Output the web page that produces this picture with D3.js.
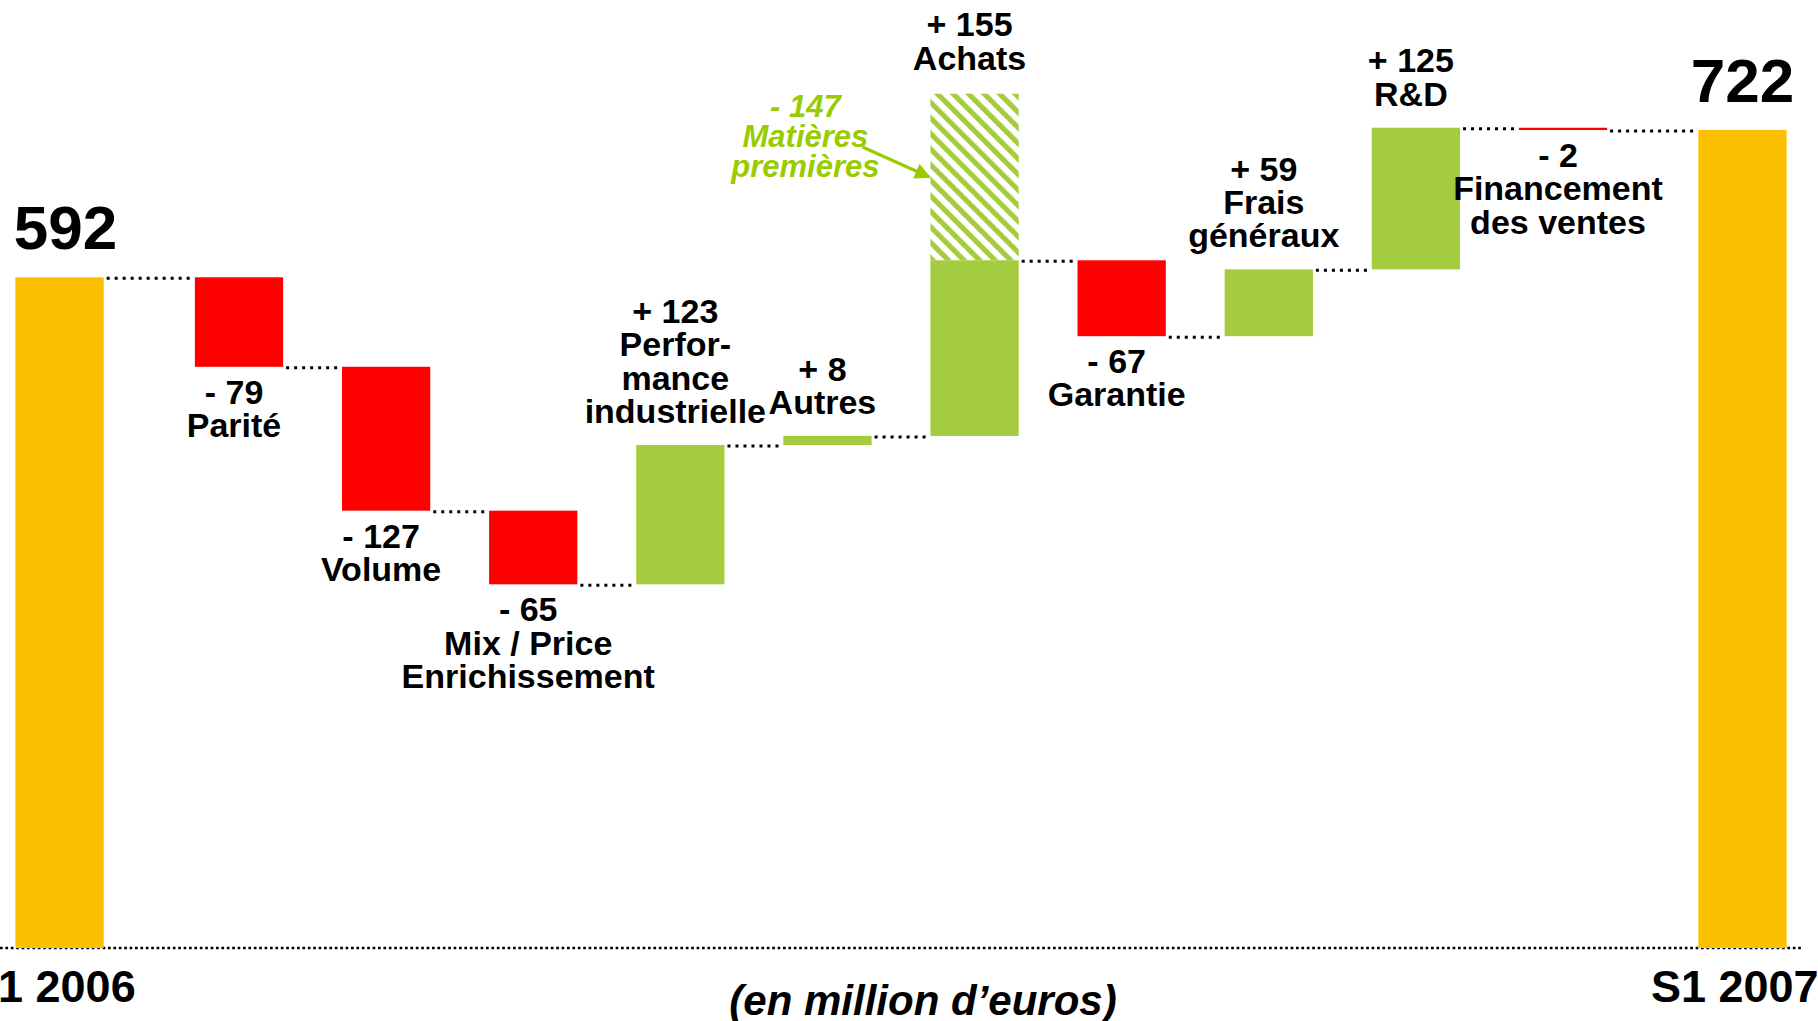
<!DOCTYPE html>
<html>
<head>
<meta charset="utf-8">
<script src="https://cdn.jsdelivr.net/npm/d3@7"></script>
<style>
  html, body { margin: 0; padding: 0; background: #ffffff; overflow: hidden; }
  svg { display: block; }
  text { font-family: "Liberation Sans", Arial, sans-serif; font-weight: bold; }
</style>
</head>
<body>
<svg id="chart" width="1818" height="1021"></svg>
<script>
// ---------- data ----------
const categories = ["S1 2006", "Parité", "Volume", "Mix / Price Enrichissement",
  "Performance industrielle", "Autres", "Achats", "Garantie", "Frais généraux",
  "R&D", "Financement des ventes", "S1 2007"];
const kinds = ["total", "delta", "delta", "delta", "delta", "delta", "delta",
  "delta", "delta", "delta", "delta", "total"];
const values = [592, -79, -127, -65, 123, 8, 155, -67, 59, 125, -2, 722];
const nameLines = [
  ["S1 2006"], ["Parité"], ["Volume"], ["Mix / Price", "Enrichissement"],
  ["Perfor-", "mance", "industrielle"], ["Autres"], ["Achats"], ["Garantie"],
  ["Frais", "généraux"], ["R&D"], ["Financement", "des ventes"], ["S1 2007"]
];
const hatchCategory = "Achats";
const hatchValue = 147;
const hatchLines = ["- 147", "Matières", "premières"];
const unitNote = "(en million d\u2019euros)";

// ---------- styles ----------
const COL_TOTAL = "#FBC000", COL_UP = "#A4CC3E", COL_DOWN = "#FF0000", COL_NOTE = "#99CC00";

// ---------- computed waterfall ----------
let run = 0;
const bars = categories.map((c, i) => {
  let start, end;
  if (kinds[i] === "total") { start = 0; end = values[i]; run = values[i]; }
  else { start = run; end = run + values[i]; run = end; }
  return { cat: c, i, kind: kinds[i], value: values[i], start, end,
           lo: Math.min(start, end), hi: Math.max(start, end), names: nameLines[i] };
});

// ---------- scales ----------
const svg = d3.select("#chart");
const endGap = 0.22;
const last = categories.length - 1;
const slot = i => i === 0 ? -endGap : (i === last ? i + endGap : i);
const x = d3.scaleLinear().domain([1, 10]).range([239, 1563]);
const step = x(2) - x(1);
const bw = step * 0.6;
const cx = i => x(slot(i));
const y = d3.scaleLinear().domain([0, 722]).range([948, 130]);

// ---------- hatch pattern ----------
const defs = svg.append("defs");
const pat = defs.append("pattern").attr("id", "hatch")
  .attr("patternUnits", "userSpaceOnUse").attr("width", 11).attr("height", 11)
  .attr("patternTransform", "rotate(-45)");
pat.append("rect").attr("width", 11).attr("height", 11).attr("fill", "#ffffff");
pat.append("rect").attr("x", 0).attr("y", 0).attr("width", 5.2).attr("height", 11).attr("fill", COL_UP);

const marker = defs.append("marker").attr("id", "arrow")
  .attr("viewBox", "0 0 10 10").attr("refX", 9).attr("refY", 5)
  .attr("markerWidth", 5).attr("markerHeight", 5).attr("orient", "auto")
  .attr("markerUnits", "strokeWidth");
marker.append("path").attr("d", "M0,0 L10,5 L0,10 z").attr("fill", COL_NOTE);

// ---------- baseline ----------
svg.append("line").attr("x1", 0).attr("x2", 1802).attr("y1", y(0)).attr("y2", y(0))
  .attr("stroke", "#000").attr("stroke-width", 2.6).attr("stroke-dasharray", "2.7,2.7");

// ---------- connectors ----------
const conn = bars.slice(0, -1).map((b, k) => ({ x1: cx(k) + bw / 2 + 3, x2: cx(k + 1) - bw / 2 - 3, v: b.end }));
svg.append("g").selectAll("line").data(conn).join("line")
  .attr("x1", d => d.x1).attr("x2", d => d.x2)
  .attr("y1", d => y(d.v) + 1).attr("y2", d => y(d.v) + 1)
  .attr("stroke", "#000").attr("stroke-width", 3).attr("stroke-dasharray", "3,5");

// ---------- hatch block ----------
const hb = bars.find(b => b.cat === hatchCategory);
const hatchTop = y(hb.hi + hatchValue), hatchBot = y(hb.hi);
svg.append("rect").attr("x", cx(hb.i) - bw / 2).attr("width", bw)
  .attr("y", hatchTop).attr("height", hatchBot - hatchTop).attr("fill", "url(#hatch)");

// ---------- bars ----------
svg.append("g").selectAll("rect").data(bars).join("rect")
  .attr("x", d => cx(d.i) - bw / 2).attr("width", bw)
  .attr("y", d => y(d.hi)).attr("height", d => Math.max(2.3, y(d.lo) - y(d.hi)))
  .attr("fill", d => d.kind === "total" ? COL_TOTAL : (d.value >= 0 ? COL_UP : COL_DOWN));

// ---------- delta labels ----------
const LH = 33.3, FS = 34;
const fmt = v => (v >= 0 ? "+ " : "- ") + Math.abs(v);
bars.filter(d => d.kind === "delta").forEach(d => {
  const lines = [fmt(d.value)].concat(d.names);
  const tx = cx(d.i) - 5;
  let base;
  if (d.value < 0) {
    base = y(d.lo) + 37;
  } else {
    const top = d.cat === hatchCategory ? hatchTop - 2 : y(d.hi);
    base = top - 22 - (lines.length - 1) * LH;
  }
  const t = svg.append("text").attr("text-anchor", "middle").attr("font-size", FS).attr("fill", "#000");
  lines.forEach((l, j) => t.append("tspan").attr("x", tx).attr("y", base + j * LH).text(l));
});

// ---------- totals ----------
bars.filter(d => d.kind === "total").forEach(d => {
  svg.append("text").attr("text-anchor", "middle").attr("font-size", 62)
    .attr("x", cx(d.i) + (d.i === 0 ? 6 : 0)).attr("y", y(d.hi) - 28).text(d.value);
  svg.append("text").attr("text-anchor", "end").attr("font-size", 45)
    .attr("x", cx(d.i) + bw / 2 + 32).attr("y", 1002).text(d.names[0]);
});

// ---------- unit note ----------
svg.append("text").attr("text-anchor", "middle").attr("font-size", 42)
  .attr("font-style", "italic").attr("x", 923).attr("y", 1015).text(unitNote);

// ---------- matières premières annotation ----------
const midY = (hatchTop + hatchBot) / 2;
const hLeft = cx(hb.i) - bw / 2;
const note = svg.append("text").attr("text-anchor", "middle").attr("font-size", 31)
  .attr("font-style", "italic").attr("fill", COL_NOTE);
hatchLines.forEach((l, j) => note.append("tspan").attr("x", hLeft - 125)
  .attr("y", midY - (hatchLines.length - 1 - j) * 30).text(l));
svg.append("line").attr("x1", hLeft - 68).attr("y1", midY - 30)
  .attr("x2", hLeft - 1).attr("y2", midY)
  .attr("stroke", COL_NOTE).attr("stroke-width", 3.2).attr("marker-end", "url(#arrow)");
</script>
</body>
</html>
